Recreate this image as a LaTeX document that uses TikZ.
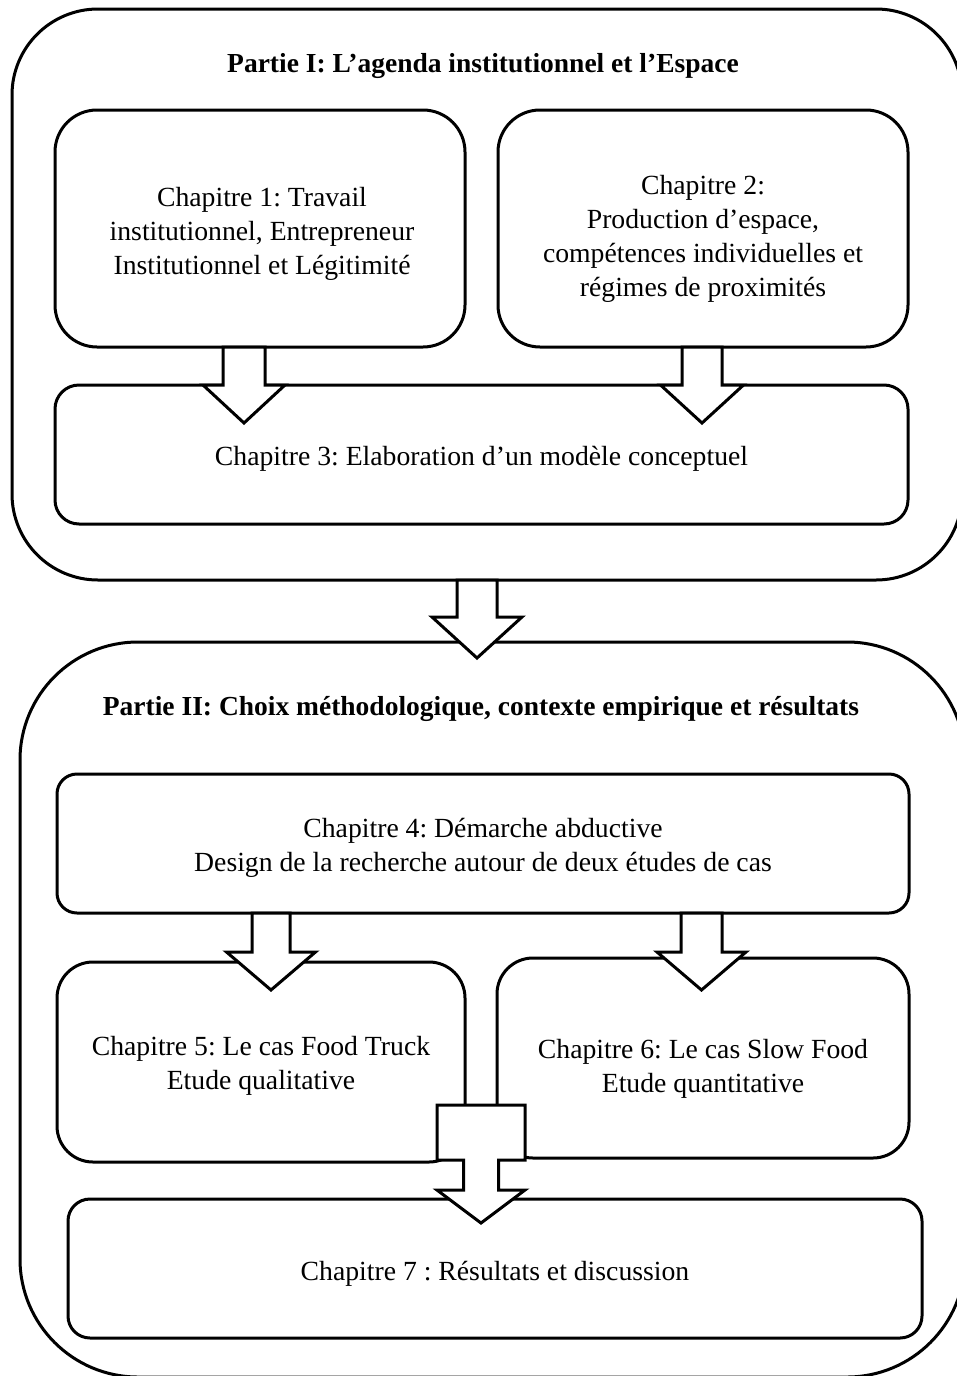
\documentclass[tikz,border=0pt]{standalone}
\usepackage{fontspec}
\setmainfont{Liberation Serif}
\usetikzlibrary{calc}
\frenchspacing
\tikzset{
  box/.style={draw, line width=3pt, fill=white, rectangle, outer sep=0pt, inner sep=2pt},
  boxtext/.style={align=center, inner sep=0pt, font=\fontsize{27.7}{34}\selectfont},
  blockarrow/.style={draw, line width=3pt, fill=white, line join=miter},
  ttl/.style={font=\bfseries\fontsize{27.5}{34}\selectfont, anchor=base, inner sep=0pt}
}
% #1 top point, #2 half shaft, #3 half head, #4 head base point, #5 head length
\newcommand\blockarr[5]{%
  \draw[blockarrow] let \p1=#1, \p2=#4 in
    (\x1-#2pt,\y1) -- (\x1-#2pt,\y2) -- (\x1-#3pt,\y2) -- (\x1,\y2-#5pt)
    -- (\x1+#3pt,\y2) -- (\x1+#2pt,\y2) -- (\x1+#2pt,\y1) -- cycle;}
\begin{document}
\begin{tikzpicture}[x=1pt,y=-1pt]
\useasboundingbox (0,0) rectangle (957,1376);
\clip (0,0) rectangle (957,1376);
% outer parts
\node[box, rounded corners=86pt, minimum width=950pt, minimum height=571pt] (part1) at (487,294.5) {};
\node[box, rounded corners=118pt, minimum width=945pt, minimum height=735pt] (part2) at (492.5,1009.5) {};
\node[ttl] (t1) at (483,72) {Partie I: L’agenda institutionnel et l’Espace};
\node[ttl] (t2) at (481,715) {Partie II: Choix méthodologique, contexte empirique et résultats};
% chapters part I
\node[box, rounded corners=42pt, minimum width=410pt, minimum height=237pt,
  label={[boxtext, yshift=-5pt, xshift=2pt]center:{Chapitre 1: Travail\\institutionnel, Entrepreneur\\Institutionnel et Légitimité}}]
  (ch1) at (260,228.5) {};
\node[box, rounded corners=42pt, minimum width=410pt, minimum height=237pt,
  label={[boxtext, yshift=-10pt]center:{Chapitre 2:\\Production d’espace,\\compétences individuelles et\\régimes de proximités}}]
  (ch2) at (703,228.5) {};
\node[box, rounded corners=24pt, minimum width=853pt, minimum height=139pt,
  label={[boxtext, yshift=-4pt]center:{Chapitre 3: Elaboration d’un modèle conceptuel}}]
  (ch3) at (481.5,454.5) {};
% chapters part II
\node[box, rounded corners=20pt, minimum width=852pt, minimum height=139pt,
  label={[boxtext, yshift=-4pt]center:{Chapitre 4: Démarche abductive\\Design de la recherche autour de deux études de cas}}]
  (ch4) at (483,843.5) {};
\node[box, rounded corners=36pt, minimum width=408pt, minimum height=200pt,
  label={[boxtext, yshift=-4pt]center:{Chapitre 5: Le cas Food Truck\\Etude qualitative}}]
  (ch5) at (261,1062) {};
\node[box, rounded corners=36pt, minimum width=412pt, minimum height=200pt,
  label={[boxtext, yshift=-11pt]center:{Chapitre 6: Le cas Slow Food\\Etude quantitative}}]
  (ch6) at (703,1058) {};
\node[box, rounded corners=22pt, minimum width=854pt, minimum height=139pt,
  label={[boxtext, yshift=-5pt]center:{Chapitre 7 : Résultats et discussion}}]
  (ch7) at (495,1268.5) {};
% block arrows
\blockarr{($(ch1.south)+(-16,0)$)}{21}{41}{(ch3.north)}{38}
\blockarr{($(ch2.south)+(-1,0)$)}{20}{41.5}{(ch3.north)}{38}
\blockarr{($(part1.south)+(-10,0)$)}{20}{45}{($(part1.south)+(0,37)$)}{41}
\blockarr{($(ch4.south)+(-212,0)$)}{19}{44.5}{($(ch4.south)+(0,39)$)}{38}
\blockarr{($(ch4.south)+(218.5,0)$)}{20.5}{44.5}{($(ch4.south)+(0,39)$)}{38}
% merging callout arrow
\draw[blockarrow] let \p1=($(ch5.east)!0.5!(ch6.west)$), \p2=(ch5.south), \p3=(ch7.north) in
  (\x1-44pt,\y2+57pt) -- (\x1+44pt,\y2+57pt) -- (\x1+44pt,\y2+2pt) -- (\x1+17.5pt,\y2+2pt)
  -- (\x1+17.5pt,\y3+9pt) -- (\x1+44pt,\y3+9pt) -- (\x1,\y3-24pt) -- (\x1-44pt,\y3+9pt)
  -- (\x1-17.5pt,\y3+9pt) -- (\x1-17.5pt,\y2+2pt) -- (\x1-44pt,\y2+2pt) -- cycle;
\end{tikzpicture}
\end{document}
